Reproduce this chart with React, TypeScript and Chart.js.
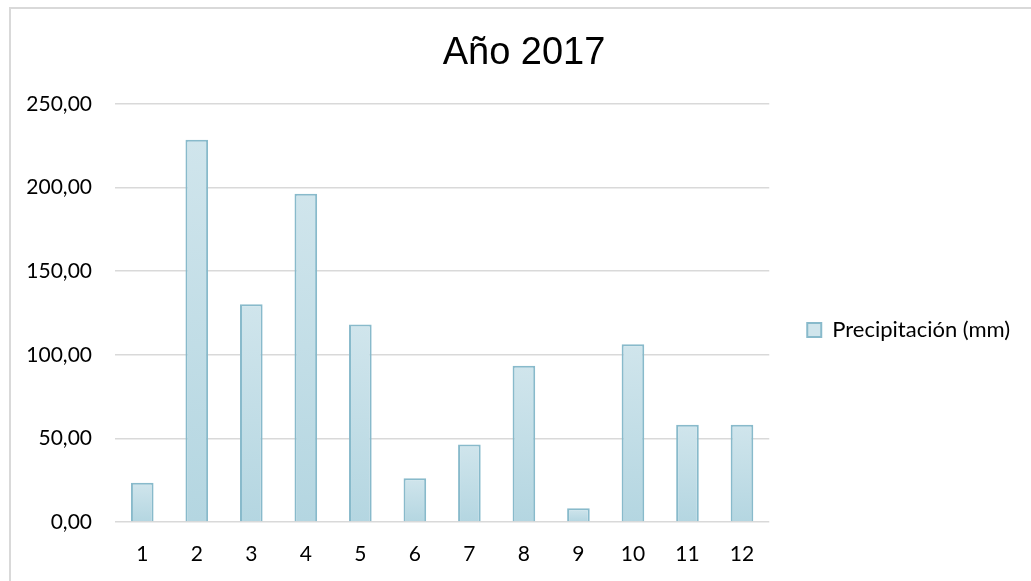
import React, { useEffect, useRef } from "react";
import { Chart, registerables } from "chart.js";

Chart.register(...registerables);

const categories: string[] = ["1", "2", "3", "4", "5", "6", "7", "8", "9", "10", "11", "12"];
const precipitation: number[] = [23.5, 228.6, 130.3, 196.3, 118.1, 26.1, 46.3, 93.4, 8.2, 106.3, 58.2, 58.2];
const yTicks: number[] = [0, 50, 100, 150, 200, 250];
const seriesLabel = "Precipitación (mm)";
const chartTitle = "Año 2017";

const FONT = "Lato, 'Liberation Sans', sans-serif";

const titleShift = {
  id: "titleShift",
  afterLayout(chart: any) {
    const tb = chart.titleBlock;
    if (tb) tb.left += 11;
  },
};

export default function App() {
  const ref = useRef<HTMLCanvasElement | null>(null);

  useEffect(() => {
    if (!ref.current) return;
    const chart = new Chart(ref.current, {
      type: "bar",
      data: {
        labels: categories,
        datasets: [
          {
            label: seriesLabel,
            data: precipitation,
            backgroundColor: (ctx: any) => {
              const c = ctx.chart;
              if (ctx.dataIndex === undefined || !c.scales || !c.scales.y) return "#c8e0e9";
              const v = precipitation[ctx.dataIndex];
              const yTop = c.scales.y.getPixelForValue(v);
              const yBase = c.scales.y.getPixelForValue(0);
              if (!isFinite(yTop) || !isFinite(yBase) || yTop === yBase) return "#c8e0e9";
              const g = c.ctx.createLinearGradient(0, yTop, 0, yBase);
              g.addColorStop(0, "#d0e5ec");
              g.addColorStop(1, "#b4d6e1");
              return g;
            },
            borderColor: "#88bacb",
            borderWidth: 2,
            categoryPercentage: 1,
            barPercentage: 0.415,
          },
        ],
      },
      plugins: [titleShift],
      options: {
        responsive: false,
        animation: false,
        layout: { padding: { left: 17, right: 11, top: 0, bottom: 0 } },
        plugins: {
          title: {
            display: true,
            text: chartTitle,
            color: "#000",
            font: { family: "'Liberation Sans', Arial, sans-serif", size: 38, weight: "normal" },
            padding: { top: 31, bottom: 27.5 },
          },
          legend: {
            display: true,
            position: "right",
            title: { display: true, text: "", font: { size: 1 }, padding: { top: 78, bottom: 0 } },
            labels: {
              boxWidth: 14,
              boxHeight: 14,
              padding: 38,
              color: "#000",
              font: { family: FONT, size: 22 },
            },
          },
          tooltip: { enabled: false },
        },
        scales: {
          x: {
            grid: { display: false, drawTicks: false },
            border: { display: false },
            ticks: { color: "#000", font: { family: FONT, size: 21 }, padding: 20 },
            afterFit: (s: any) => {
              s.height = 59;
            },
          },
          y: {
            min: 0,
            max: 250,
            afterBuildTicks: (s: any) => {
              s.ticks = yTicks.map((v) => ({ value: v }));
            },
            grid: { color: "#d9d9d9", lineWidth: 1.6, drawTicks: false },
            border: { display: false },
            ticks: {
              color: "#000",
              font: { family: FONT, size: 21 },
              padding: 23,
              callback: (v: any) => Number(v).toFixed(2).replace(".", ","),
            },
            afterFit: (s: any) => {
              s.width = 98;
            },
          },
        },
      },
    });
    return () => chart.destroy();
  }, []);

  return (
    <div
      style={{
        position: "absolute",
        left: 0,
        top: 0,
        width: 1031,
        height: 581,
        overflow: "hidden",
        background: "#fff",
      }}
    >
      <div
        style={{
          position: "absolute",
          left: 9,
          top: 7,
          width: 1100,
          height: 700,
          border: "2px solid #d9d9d9",
          boxSizing: "border-box",
        }}
      />
      <canvas ref={ref} width={1031} height={581} style={{ position: "absolute", left: 0, top: 0 }} />
    </div>
  );
}
